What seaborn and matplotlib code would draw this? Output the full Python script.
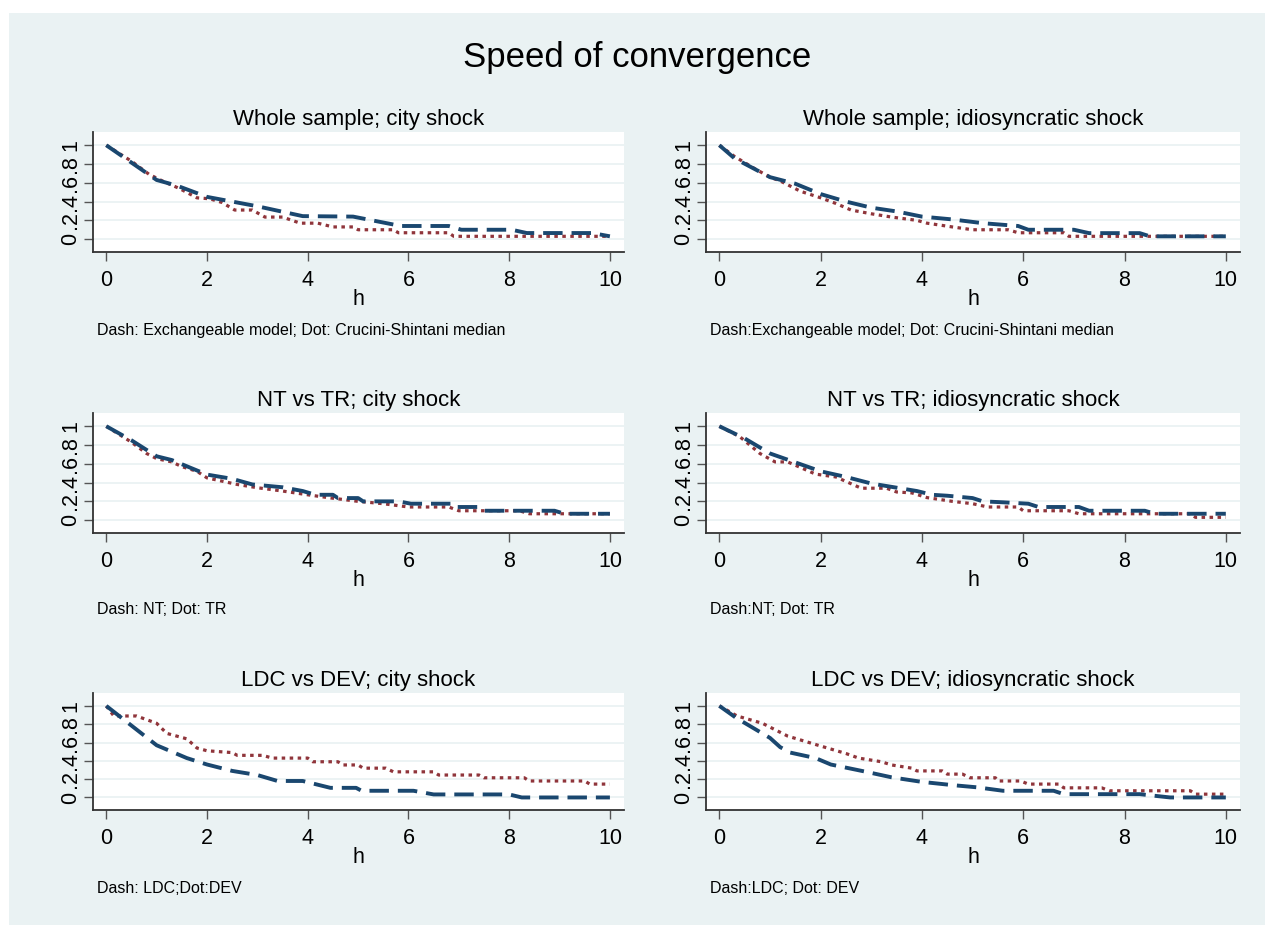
import matplotlib
matplotlib.use("Agg")
import matplotlib.pyplot as plt
import matplotlib.patches as patches
import pandas as pd
import seaborn as sns

W, H = 1274, 938
NAVY = "#1A476F"
MAROON = "#90353B"
REGION = "#EAF2F3"

# --- data (h, share of shock remaining) ---
titles = ["Whole sample; city shock", "Whole sample; idiosyncratic shock",
          "NT vs TR; city shock", "NT vs TR; idiosyncratic shock",
          "LDC vs DEV; city shock", "LDC vs DEV; idiosyncratic shock"]
notes = ["Dash: Exchangeable model; Dot: Crucini-Shintani median",
         "Dash:Exchangeable model; Dot: Crucini-Shintani median",
         "Dash: NT; Dot: TR", "Dash:NT; Dot: TR",
         "Dash: LDC;Dot:DEV", "Dash:LDC; Dot: DEV"]

ws_city_dash_h = [0, 1, 1.4, 2, 3, 3.9, 4.9, 5.85, 6.8, 7.05, 8.05, 8.35, 9.65, 10]
ws_city_dash = [1, 0.63, 0.57, 0.45, 0.35, 0.245, 0.24, 0.14, 0.14, 0.10, 0.10, 0.065, 0.065, 0.03]
ws_city_dot_h = [0, 0.5, 0.85, 1.15, 1.45, 1.8, 2.05, 2.3, 2.55, 2.9, 3.15, 3.5, 3.85, 4.2, 4.5,
                 4.9, 5.0, 5.7, 5.8, 6.8, 6.9, 10]
ws_city_dot = [1, 0.83, 0.69, 0.61, 0.54, 0.44, 0.43, 0.39, 0.31, 0.31, 0.235, 0.235, 0.17, 0.17,
               0.13, 0.13, 0.10, 0.10, 0.068, 0.068, 0.03, 0.03]

ws_idio_dash_h = [0, 0.3, 1, 1.5, 2, 2.5, 3, 3.5, 4, 4.6, 5.2, 5.9, 6.1, 7.0, 7.3, 8.3, 8.5, 10]
ws_idio_dash = [1, 0.86, 0.66, 0.59, 0.48, 0.40, 0.335, 0.295, 0.24, 0.21, 0.17, 0.14, 0.10, 0.10,
                0.064, 0.064, 0.03, 0.03]
ws_idio_dot_h = [0, 0.3, 0.7, 1.0, 1.2, 1.6, 2.0, 2.3, 2.6, 3.0, 3.4, 3.9, 4.1, 4.6, 5.0, 5.7, 5.9,
                 6.8, 6.9, 10]
ws_idio_dot = [1, 0.88, 0.75, 0.66, 0.62, 0.51, 0.44, 0.38, 0.31, 0.27, 0.235, 0.20, 0.17, 0.13,
               0.10, 0.10, 0.068, 0.068, 0.03, 0.03]

nt_city_dash_h = [0, 0.5, 1, 1.3, 2, 2.5, 2.9, 3.5, 3.9, 4.15, 4.5, 4.6, 5.0, 5.1, 5.8, 6.05, 6.9,
                  6.95, 7.4, 7.5, 8.9, 9.1, 10]
nt_city_dash = [1, 0.85, 0.68, 0.64, 0.485, 0.44, 0.38, 0.35, 0.31, 0.27, 0.27, 0.235, 0.235, 0.20,
                0.20, 0.175, 0.175, 0.14, 0.14, 0.10, 0.10, 0.068, 0.068]
nt_city_dot_h = [0, 0.5, 0.8, 1.0, 1.3, 1.5, 1.8, 2.0, 2.6, 3.0, 3.5, 4.0, 4.4, 5.0, 5.5, 6.0, 6.8,
                 7.0, 8.2, 8.4, 10]
nt_city_dot = [1, 0.83, 0.71, 0.655, 0.62, 0.57, 0.52, 0.45, 0.38, 0.345, 0.31, 0.27, 0.24, 0.20,
               0.175, 0.14, 0.14, 0.10, 0.10, 0.068, 0.068]

nt_idio_dash_h = [0, 0.5, 1, 2, 2.5, 3, 3.9, 4.2, 4.5, 5.0, 5.2, 5.6, 6.1, 6.3, 7.1, 7.3, 8.4, 8.6, 10]
nt_idio_dash = [1, 0.87, 0.71, 0.52, 0.46, 0.39, 0.31, 0.27, 0.26, 0.235, 0.20, 0.19, 0.175, 0.14,
                0.14, 0.10, 0.10, 0.068, 0.068]
nt_idio_dot_h = [0, 0.4, 0.8, 1.1, 1.35, 1.9, 2.3, 2.8, 3.3, 3.5, 3.8, 4.1, 4.6, 5.0, 5.3, 5.9, 6.0,
                 6.9, 7.1, 9.3, 9.4, 10]
nt_idio_dot = [1, 0.89, 0.71, 0.62, 0.62, 0.49, 0.46, 0.34, 0.34, 0.30, 0.29, 0.24, 0.20, 0.175,
               0.14, 0.14, 0.10, 0.10, 0.068, 0.068, 0.03, 0.03]

ldc_city_dash_h = [0, 1, 1.6, 2, 2.5, 3.0, 3.4, 3.9, 4.45, 4.96, 5.07, 6.1, 6.5, 8.0, 8.25, 10]
ldc_city_dash = [1, 0.57, 0.43, 0.36, 0.29, 0.245, 0.18, 0.18, 0.105, 0.105, 0.073, 0.073, 0.033,
                 0.033, 0, 0]
ldc_city_dot_h = [0, 0.15, 0.6, 0.8, 1.0, 1.2, 1.6, 1.8, 2.0, 2.5, 2.6, 3.1, 3.3, 4.0, 4.1, 4.6,
                  4.7, 5.0, 5.1, 5.55, 5.7, 6.5, 6.6, 7.4, 7.5, 8.3, 8.4, 9.5, 9.6, 10]
ldc_city_dot = [1, 0.89, 0.89, 0.85, 0.81, 0.70, 0.64, 0.54, 0.51, 0.49, 0.46, 0.46, 0.43, 0.43,
                0.39, 0.39, 0.355, 0.355, 0.32, 0.32, 0.28, 0.28, 0.245, 0.245, 0.215, 0.215,
                0.18, 0.18, 0.146, 0.146]

ldc_idio_dash_h = [0, 0.33, 1.0, 1.2, 1.4, 1.9, 2.2, 2.9, 3.4, 4.0, 4.6, 5.1, 5.6, 6.6, 6.8, 8.3, 8.9, 10]
ldc_idio_dash = [1, 0.87, 0.65, 0.55, 0.49, 0.43, 0.36, 0.28, 0.22, 0.17, 0.135, 0.11, 0.073, 0.073,
                 0.036, 0.036, 0, 0]
ldc_idio_dot_h = [0, 0.35, 0.85, 1.35, 1.95, 2.5, 2.75, 3.2, 3.4, 3.8, 3.9, 4.4, 4.5, 4.8, 4.95,
                  5.45, 5.5, 5.95, 6.1, 6.7, 6.8, 7.55, 7.7, 9.3, 9.4, 10]
ldc_idio_dot = [1, 0.89, 0.81, 0.67, 0.57, 0.48, 0.43, 0.39, 0.355, 0.32, 0.29, 0.29, 0.255, 0.255,
                0.215, 0.215, 0.18, 0.18, 0.146, 0.146, 0.105, 0.105, 0.073, 0.073, 0.036, 0.036]

yticks = [0, 0.2, 0.4, 0.6, 0.8, 1]
ytick_labels = ["0", ".2", ".4", ".6", ".8", "1"]
xticks = [0, 2, 4, 6, 8, 10]

series = [
    (ws_city_dash_h, ws_city_dash, ws_city_dot_h, ws_city_dot),
    (ws_idio_dash_h, ws_idio_dash, ws_idio_dot_h, ws_idio_dot),
    (nt_city_dash_h, nt_city_dash, nt_city_dot_h, nt_city_dot),
    (nt_idio_dash_h, nt_idio_dash, nt_idio_dot_h, nt_idio_dot),
    (ldc_city_dash_h, ldc_city_dash, ldc_city_dot_h, ldc_city_dot),
    (ldc_idio_dash_h, ldc_idio_dash, ldc_idio_dot_h, ldc_idio_dot),
]

# --- layout (pixel boxes of the plot regions) ---
col_x = [(93, 624), (706, 1240)]
row_y = [(132, 252), (413, 533), (693, 810)]
note_base = [335, 614, 893]

sns.set_style("ticks")
plt.rcParams["font.family"] = ["Liberation Sans", "DejaVu Sans"]
plt.rcParams.update({"text.color": "black", "axes.labelcolor": "black",
                     "xtick.labelcolor": "black", "ytick.labelcolor": "black"})

fig = plt.figure(figsize=(W / 100, H / 100), dpi=100, facecolor="white")
fig.patches.append(patches.Rectangle((9 / W, 1 - 925 / H), (1265 - 9) / W, (925 - 13) / H,
                                     transform=fig.transFigure, facecolor=REGION,
                                     edgecolor="none", zorder=-5))
fig.text(0.5, 1 - 67 / H, "Speed of convergence", ha="center", va="baseline", fontsize=25)

for i, (title, note, (dh, dy, oh, oy)) in enumerate(zip(titles, notes, series)):
    r, c = divmod(i, 2)
    x0, x1 = col_x[c]
    y0, y1 = row_y[r]
    ax = fig.add_axes([x0 / W, 1 - y1 / H, (x1 - x0) / W, (y1 - y0) / H])
    ax.set_facecolor("white")

    df = pd.concat([pd.DataFrame({"h": dh, "v": dy, "s": "dash"}),
                    pd.DataFrame({"h": oh, "v": oy, "s": "dot"})], ignore_index=True)
    sns.lineplot(data=df[df.s == "dot"], x="h", y="v", ax=ax, color=MAROON, lw=2.3,
                 linestyle=(0, (1.1, 1.4)), estimator=None, sort=False)
    sns.lineplot(data=df[df.s == "dash"], x="h", y="v", ax=ax, color=NAVY, lw=2.8,
                 linestyle=(0, (5.0, 2.3)), estimator=None, sort=False)

    ax.set_xlim(-0.264, 10.28)
    ax.set_ylim(-0.137, 1.141)
    ax.set_xticks(xticks)
    ax.set_yticks(yticks)
    ax.set_yticklabels(ytick_labels, rotation=90, va="center")
    ax.tick_params(axis="both", labelsize=15.5, length=6.7, width=1, color="#555555",
                   labelcolor="black")
    ax.tick_params(axis="x", pad=6)
    ax.tick_params(axis="y", pad=1.7)
    ax.yaxis.grid(True, color=REGION, lw=1.3)
    ax.set_axisbelow(True)
    for side in ["top", "right"]:
        ax.spines[side].set_visible(False)
    for side in ["left", "bottom"]:
        ax.spines[side].set_color("#333333")
        ax.spines[side].set_linewidth(1.3)

    ax.set_title(title, fontsize=16, pad=5, color="black")
    ax.set_ylabel("")
    ax.set_xlabel("h", fontsize=15.5)
    ax.xaxis.label.set_va("baseline")
    ax.xaxis.set_label_coords(0.5, -53.3 / (y1 - y0))

    fig.text((x0 + 4) / W, 1 - note_base[r] / H, note, ha="left", va="baseline", fontsize=11.5)

fig.savefig("out.png", dpi=100)
